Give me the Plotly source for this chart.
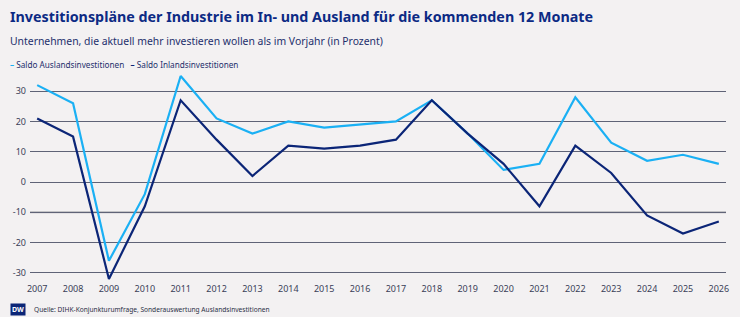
import plotly.graph_objects as go

years = list(range(2007, 2027))
ausland = [32, 26, -26, -4, 35, 21, 16, 20, 18, 19, 20, 27, 16, 4, 6, 28, 13, 7, 9, 6]
inland = [21, 15, -32, -8, 27, 14, 2, 12, 11, 12, 14, 27, 16, 6, -8, 12, 3, -11, -17, -13]
ytick_vals = [30, 20, 10, 0, -10, -20, -30]
ytick_text = ["30", "20", "10", "0", "-10", "-20", "-30"]

LIGHT = "#1ab0f4"
NAVY = "#0b2577"
BG = "#f3f1f2"
GRID = "#5f6377"
FONT = "Noto Sans"

fig = go.Figure()
fig.add_trace(go.Scatter(x=years, y=ausland, mode="lines", name="Saldo Auslandsinvestitionen",
                         line=dict(color=LIGHT, width=2.2), cliponaxis=False))
fig.add_trace(go.Scatter(x=years, y=inland, mode="lines", name="Saldo Inlandsinvestitionen",
                         line=dict(color=NAVY, width=2.2), cliponaxis=False))

fig.add_shape(type="line", xref="paper", yref="y", x0=0, x1=1, y0=-10, y1=-10,
              line=dict(color="#b5b5b9", width=2), layer="below")

fig.update_layout(
    width=740, height=317,
    paper_bgcolor=BG, plot_bgcolor=BG,
    margin=dict(l=30, r=14, t=73, b=35),
    showlegend=False,
    font=dict(family=FONT, color="#3a3f58", size=9),
    xaxis=dict(range=[2006.8, 2026.2], tickvals=years, ticktext=[str(y) for y in years],
               showgrid=False, zeroline=False, showline=False, ticks="",
               tickfont=dict(size=9, color="#3a3f58")),
    yaxis=dict(range=[-33, 36], tickvals=ytick_vals, ticktext=ytick_text,
               showgrid=True, gridcolor=GRID, gridwidth=1, zeroline=False,
               showline=False, ticks="", ticklabelstandoff=3,
               tickfont=dict(size=9, color="#3a3f58")),
)

fig.add_annotation(text="<b>Investitionspläne der Industrie im In- und Ausland für die kommenden 12 Monate</b>",
                   xref="paper", yref="paper", x=-22/696, y=1 + (73 - 17) / 209,
                   xanchor="left", yanchor="middle", showarrow=False,
                   font=dict(size=14.3, color="#0c2a84", family=FONT))
fig.add_annotation(text="Unternehmen, die aktuell mehr investieren wollen als im Vorjahr (in Prozent)",
                   xref="paper", yref="paper", x=-22/696, y=1 + (73 - 41) / 209,
                   xanchor="left", yanchor="middle", showarrow=False,
                   font=dict(size=10.4, color="#1d2f6c", family=FONT))
fig.add_annotation(text=f"<span style='color:{LIGHT}'><b>–</b></span> Saldo Auslandsinvestitionen"
                        f"   <span style='color:{NAVY}'><b>–</b></span> Saldo Inlandsinvestitionen",
                   xref="paper", yref="paper", x=-22/696, y=1 + (73 - 64) / 209,
                   xanchor="left", yanchor="middle", showarrow=False,
                   font=dict(size=8.2, color="#1d2f6c", family=FONT))
fig.add_annotation(text="<b>DW</b>", xref="paper", yref="paper", x=-20/696, y=-(309 - 282) / 209,
                   xanchor="left", yanchor="middle", showarrow=False,
                   bgcolor=NAVY, borderpad=1,
                   font=dict(size=7, color="white", family=FONT))
fig.add_annotation(text="Quelle: DIHK-Konjunkturumfrage, Sonderauswertung Auslandsinvestitionen",
                   xref="paper", yref="paper", x=2/696, y=-(309 - 282) / 209,
                   xanchor="left", yanchor="middle", showarrow=False,
                   font=dict(size=6.6, color="#2a2f45", family=FONT))

fig.write_html("out.html")
